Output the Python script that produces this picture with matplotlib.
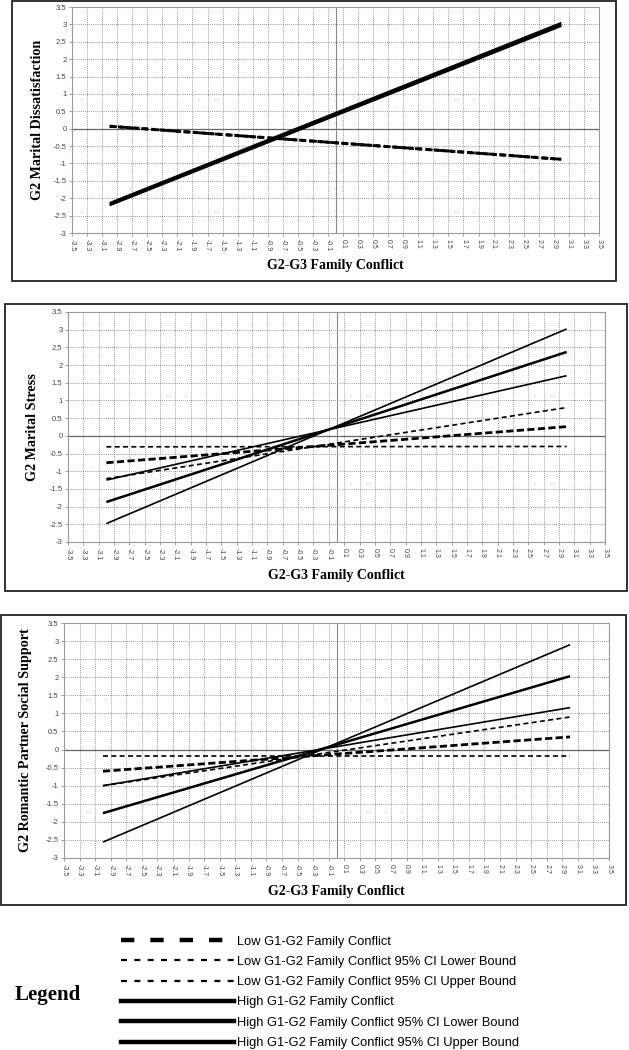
import matplotlib
matplotlib.use("Agg")
import matplotlib.pyplot as plt
from matplotlib.lines import Line2D
from matplotlib.patches import Rectangle
import numpy as np

# x range of the simple slopes (G2-G3 family conflict)
x_ends = [-3.0, 3.0]

# (value at x=-3, value at x=3) for each line
p1_low_mean = [0.07, -0.88]
p1_low_lower = [0.05, -0.90]
p1_low_upper = [0.09, -0.86]
p1_high_mean = [-2.17, 3.00]
p1_high_lower = [-2.21, 2.95]
p1_high_upper = [-2.13, 3.05]

p2_low_mean = [-0.76, 0.26]
p2_low_lower = [-0.31, -0.30]
p2_low_upper = [-1.21, 0.80]
p2_high_mean = [-1.87, 2.37]
p2_high_lower = [-1.25, 1.70]
p2_high_upper = [-2.48, 3.02]

p3_low_mean = [-0.60, 0.35]
p3_low_lower = [-0.19, -0.19]
p3_low_upper = [-1.00, 0.90]
p3_high_mean = [-1.76, 2.03]
p3_high_lower = [-1.00, 1.16]
p3_high_upper = [-2.56, 2.90]

ylabels = ["G2 Marital Dissatisfaction", "G2 Marital Stress",
           "G2 Romantic Partner Social Support"]
xlabel = "G2-G3 Family Conflict"

legend_labels = ["Low G1-G2 Family Conflict",
                 "Low G1-G2 Family Conflict 95% CI Lower Bound",
                 "Low G1-G2 Family Conflict 95% CI Upper Bound",
                 "High G1-G2 Family Conflict",
                 "High G1-G2 Family Conflict 95% CI Lower Bound",
                 "High G1-G2 Family Conflict 95% CI Upper Bound"]

xticks = np.round(np.arange(-3.5, 3.51, 0.2), 1)
yticks = np.round(np.arange(-3.0, 3.51, 0.5), 1)

W, H = 629, 1050
fig = plt.figure(figsize=(W / 100, H / 100), dpi=100)
serif = "Liberation Serif"
sans = "Liberation Sans"

def fbox(l, t, r, b):
    # pixel box -> figure fraction [left, bottom, width, height]
    return [l / W, 1 - b / H, (r - l) / W, (b - t) / H]

panels = [
    dict(box=(12, 1, 616, 281), ax=(72, 7, 599, 233), ylx=38, xly=265,
         lines=[p1_low_mean, p1_low_lower, p1_low_upper, p1_high_mean, p1_high_lower, p1_high_upper]),
    dict(box=(5, 304, 627, 591), ax=(68, 312, 605, 542), ylx=32, xly=576,
         lines=[p2_low_mean, p2_low_lower, p2_low_upper, p2_high_mean, p2_high_lower, p2_high_upper]),
    dict(box=(1, 615, 626, 905), ax=(64, 623, 609, 858), ylx=26, xly=891,
         lines=[p3_low_mean, p3_low_lower, p3_low_upper, p3_high_mean, p3_high_lower, p3_high_upper]),
]

styles = [
    dict(lw=2.0, dashes=(2.6, 1.2)),
    dict(lw=1.2, dashes=(3.0, 2.0)),
    dict(lw=1.2, dashes=(3.0, 2.0)),
    dict(lw=1.8, ls="-"),
    dict(lw=1.2, ls="-"),
    dict(lw=1.2, ls="-"),
]

def fmt(v):
    return f"{v:g}"

for i, p in enumerate(panels):
    l, t, r, b = p["box"]
    fig.patches.append(Rectangle((l / W, 1 - b / H), (r - l) / W, (b - t) / H,
                                 transform=fig.transFigure, fill=False,
                                 edgecolor="#222222", lw=1.3))
    ax = fig.add_axes(fbox(*p["ax"]))
    ax.set_xlim(-3.5, 3.5)
    ax.set_ylim(-3, 3.5)
    ax.set_xticks(xticks)
    ax.set_yticks(yticks)
    ax.set_xticklabels([fmt(v) for v in xticks], rotation=-90, fontsize=5,
                       family=sans, color="#444444")
    ax.set_yticklabels([fmt(v) for v in yticks], fontsize=5.5,
                       family=sans, color="#444444")
    ax.tick_params(length=2.5, width=0.5, color="#777777", pad=1.5)
    ax.grid(True, ls=(0, (1, 1.5)), lw=0.6, color="#777777")
    for s in ax.spines.values():
        s.set_color("#999999")
        s.set_linewidth(0.8)
    ax.axhline(0, color="#666666", lw=0.9)
    ax.axvline(0, color="#888888", lw=0.8)
    for vals, st in zip(p["lines"], styles):
        ax.plot(x_ends, vals, color="black", solid_capstyle="butt",
                dash_capstyle="butt", **st)
    ax.set_axisbelow(True)
    cx = (p["ax"][0] + p["ax"][2]) / 2
    cy = (p["ax"][1] + p["ax"][3]) / 2
    fig.text(p["ylx"] / W, 1 - cy / H, ylabels[i], rotation=90, ha="center",
             va="center", fontsize=10.2, fontweight="bold", family=serif)
    fig.text(cx / W, 1 - p["xly"] / H, xlabel, ha="center", va="center",
             fontsize=10, fontweight="bold", family=serif)

# legend
fig.text(48 / W, 1 - 995 / H, "Legend", ha="center", va="center",
         fontsize=15, fontweight="bold", family=serif)
handles = [
    Line2D([], [], color="black", lw=3.2, dashes=(3.0, 3.6)),
    Line2D([], [], color="black", lw=1.6, dashes=(2.7, 3.3)),
    Line2D([], [], color="black", lw=1.6, dashes=(2.7, 3.3)),
    Line2D([], [], color="black", lw=3.2),
    Line2D([], [], color="black", lw=3.2),
    Line2D([], [], color="black", lw=3.2),
]
fig.legend(handles, legend_labels, loc="upper left",
           bbox_to_anchor=(115 / W, 1 - 929 / H), frameon=False,
           prop=dict(family=sans, size=9.3), handlelength=8.7,
           handletextpad=0.25, labelspacing=0.64, borderpad=0)

fig.savefig("out.png", dpi=100)
